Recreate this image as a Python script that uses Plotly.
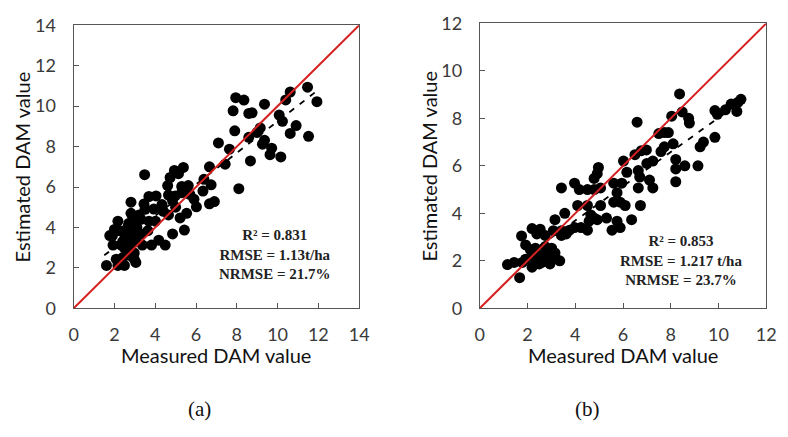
import plotly.graph_objects as go

# ---------------- data ----------------
# panel (a)
a_measured = [7.95, 8.35, 7.82, 8.59, 7.9, 7.1, 7.64, 7.43, 6.66, 8.1, 8.67, 8.59, 9.0, 9.36,
              9.15, 9.36, 9.26, 9.63, 9.71, 10.16, 10.08, 10.24, 10.4, 10.62, 10.62, 10.91,
              11.47, 11.52, 11.93, 8.75,
              3.48, 4.73, 4.94, 5.38, 5.14, 4.61, 5.3, 5.62, 6.39, 6.74, 6.34, 6.66, 6.9, 6.02,
              5.7, 5.54, 4.85, 4.33, 4.65, 4.98, 5.3, 5.22, 4.65, 5.43, 4.85, 4.49, 4.17, 3.82,
              4.04, 3.69, 3.93, 4.01, 3.45, 3.21, 3.05, 2.81, 2.81, 2.65, 2.17, 2.25, 2.49, 2.89,
              3.05, 3.37, 3.29, 3.64, 3.69, 1.93, 1.77, 2.33, 2.73, 2.49, 2.97, 2.09, 2.17, 2.49,
              2.97, 3.05, 1.61, 2.41, 2.81,
              2.6, 3.1, 2.9, 3.5, 2.4, 3.3, 2.0, 2.7, 3.0, 1.9, 5.9, 5.0, 4.4]
a_estimated = [10.42, 10.3, 9.77, 9.64, 8.78, 8.18, 7.87, 7.13, 7.0, 5.92, 7.29, 8.46, 8.7, 10.1,
               8.92, 8.31, 8.12, 7.6, 7.92, 7.49, 9.56, 9.25, 10.31, 10.7, 8.65, 9.04,
               10.94, 8.51, 10.22, 9.67,
               6.61, 6.47, 6.82, 6.97, 6.66, 6.07, 6.03, 6.07, 6.38, 6.11, 5.8, 5.17, 5.28, 5.02,
               5.64, 4.7, 5.33, 5.13, 5.6, 5.56, 5.72, 4.47, 4.62, 3.87, 3.68, 3.13, 3.37, 3.13,
               5.56, 5.53, 4.91, 4.31, 5.16, 4.62, 4.31, 5.25, 4.7, 4.0, 4.31, 3.84, 3.68, 3.68,
               3.37, 3.13, 3.68, 3.84, 4.31, 3.13, 3.6, 3.13, 3.06, 2.98, 2.74, 2.43, 2.12, 2.12,
               2.43, 2.27, 2.12, 2.51, 2.59,
               3.5, 4.0, 4.4, 4.9, 3.3, 4.4, 3.9, 4.2, 3.3, 3.6, 5.4, 5.0, 4.8]
a_fit_x = [1.5, 11.9]
a_fit_y = [2.62, 10.73]

# panel (b)
b_measured = [8.37, 6.59, 8.04, 8.48, 8.75, 8.78, 9.85, 9.95, 10.29, 10.53, 10.81, 10.94, 10.77,
              9.85, 9.37, 9.23, 9.14, 8.59, 8.21, 8.21, 8.21, 8.1, 7.73, 7.5, 7.59, 7.73, 7.25,
              7.11, 7.25, 6.77, 6.98, 6.5, 6.64, 6.7, 6.64, 6.73, 6.36, 6.02, 6.16, 5.95, 5.61,
              5.75, 5.88, 6.09, 5.61, 5.75, 5.54, 5.88, 5.31, 4.97, 4.92, 4.79, 5.06, 5.06, 4.79,
              4.51, 3.97, 4.17, 3.42, 4.1, 4.51, 4.65, 4.79, 4.92, 4.58, 3.56, 3.15, 3.42, 3.76,
              3.97, 4.24, 4.51, 3.62, 3.42, 3.08, 2.19, 2.53, 2.39, 2.74, 1.75, 1.92, 2.12, 2.33,
              2.74, 3.01, 3.15, 2.74, 2.53, 2.87, 3.15, 3.35, 2.94, 2.6, 2.33, 2.19, 1.92, 1.78,
              1.44, 1.16, 1.67, 2.49, 2.19, 7.9, 7.0]
b_estimated = [9.03, 7.84, 8.09, 8.27, 8.0, 7.8, 8.33, 8.17, 8.36, 8.6, 8.67, 8.8, 8.29,
               7.2, 7.0, 6.8, 6.0, 6.0, 6.27, 5.87, 5.33, 6.93, 7.4, 7.36, 6.6, 6.8, 6.2,
               5.4, 5.07, 6.64, 6.67, 6.47, 5.8, 5.53, 5.07, 4.33, 3.73, 6.2, 5.73, 5.27, 5.27,
               4.87, 4.47, 4.33, 4.47, 3.67, 3.29, 3.4, 3.8, 5.93, 5.67, 5.47, 5.07, 4.33, 5.0,
               5.0, 5.27, 5.0, 5.07, 4.33, 4.33, 3.93, 3.8, 3.73, 3.67, 4.0, 3.73, 3.27, 3.29,
               3.4, 3.4, 3.29, 3.13, 3.07, 3.27, 3.36, 3.33, 3.13, 3.07, 3.05, 2.67, 2.47, 2.53,
               2.6, 2.53, 2.33, 2.33, 2.2, 2.13, 2.13, 2.0, 1.87, 1.93, 1.87, 1.73, 2.07, 1.93,
               1.93, 1.84, 1.29, 1.87, 2.2, 7.4, 6.1]
b_fit_x = [1.2, 10.9]
b_fit_y = [1.68, 8.67]

a_range = [0, 14]
b_range = [0, 12]
a_ticks = [0, 2, 4, 6, 8, 10, 12, 14]
b_ticks = [0, 2, 4, 6, 8, 10, 12]
a_stats = "<b>R² = 0.831<br>RMSE = 1.13t/ha<br>NRMSE = 21.7%</b>"
b_stats = "<b>R² = 0.853<br>RMSE = 1.217 t/ha<br>NRMSE = 23.7%</b>"
x_title = "Measured DAM value"
y_title = "Estimated DAM value"
panel_labels = ["(a)", "(b)"]

# ---------------- figure ----------------
W, H = 788, 437
fig = go.Figure()

def px_x(p):
    return p / W

def px_y(p):
    return 1 - p / H

panels = [
    dict(mx=a_measured, my=a_estimated, fx=a_fit_x, fy=a_fit_y, rng=a_range, ticks=a_ticks,
         stats=a_stats, xa="x", ya="y", left=70, right=361, top=14, bottom=312,
         stats_xy=(275, 255), ytitle_x=17, label_x=198),
    dict(mx=b_measured, my=b_estimated, fx=b_fit_x, fy=b_fit_y, rng=b_range, ticks=b_ticks,
         stats=b_stats, xa="x2", ya="y2", left=484, right=776, top=12, bottom=312,
         stats_xy=(689, 262), ytitle_x=432, label_x=594),
]

tick_font = dict(family="Lato, Open Sans, sans-serif", size=18, color="#3a3a3a")
axis_common = dict(showgrid=False, zeroline=False, showline=True, mirror=True,
                   linecolor="#555555", linewidth=1.2, ticks="inside", ticklen=5,
                   tickcolor="#555555", tickfont=tick_font)

for i, p in enumerate(panels):
    fig.add_trace(go.Scatter(x=p["mx"], y=p["my"], mode="markers",
                             marker=dict(size=11, color="black"),
                             xaxis=p["xa"], yaxis=p["ya"], showlegend=False))
    fig.add_trace(go.Scatter(x=p["fx"], y=p["fy"], mode="lines",
                             line=dict(color="black", width=1.8, dash="6px,7px"),
                             xaxis=p["xa"], yaxis=p["ya"], showlegend=False))
    fig.add_trace(go.Scatter(x=p["rng"], y=p["rng"], mode="lines",
                             line=dict(color="#d62020", width=2),
                             xaxis=p["xa"], yaxis=p["ya"], showlegend=False))
    xkey = "xaxis" if p["xa"] == "x" else "xaxis2"
    ykey = "yaxis" if p["ya"] == "y" else "yaxis2"
    fig.update_layout(**{
        xkey: dict(domain=[px_x(p["left"]), px_x(p["right"])], range=p["rng"],
                   tickvals=p["ticks"], anchor=p["ya"], ticklabelstandoff=10, **axis_common),
        ykey: dict(domain=[px_y(p["bottom"]), px_y(p["top"])], range=p["rng"],
                   tickvals=p["ticks"], anchor=p["xa"], ticklabelstandoff=13, **axis_common),
    })
    sx, sy = p["stats_xy"]
    fig.add_annotation(x=px_x(sx), y=px_y(sy), xref="paper", yref="paper",
                       xanchor="center", yanchor="middle",
                       text=p["stats"], showarrow=False, align="center",
                       font=dict(family="Liberation Serif, Times New Roman, serif",
                                 size=15, color="#222222"))
    fig.add_annotation(x=px_x((p["left"] + p["right"]) / 2), y=px_y(361),
                       xref="paper", yref="paper", xanchor="center", yanchor="middle",
                       text=x_title, showarrow=False,
                       font=dict(family="Lato, Open Sans, sans-serif", size=20, color="#111111"))
    fig.add_annotation(x=px_x(p["ytitle_x"]), y=px_y((p["top"] + p["bottom"]) / 2),
                       xref="paper", yref="paper", xanchor="center", yanchor="middle",
                       text=y_title, showarrow=False, textangle=-90,
                       font=dict(family="Lato, Open Sans, sans-serif", size=20, color="#111111"))
    fig.add_annotation(x=px_x(p["label_x"]), y=px_y(418), xref="paper", yref="paper",
                       xanchor="center", yanchor="middle",
                       text=panel_labels[i], showarrow=False,
                       font=dict(family="Liberation Serif, Times New Roman, serif",
                                 size=21, color="#111111"))

fig.update_layout(width=W, height=H, margin=dict(l=0, r=0, t=0, b=0),
                  plot_bgcolor="white", paper_bgcolor="white")

fig.write_html("out.html")
